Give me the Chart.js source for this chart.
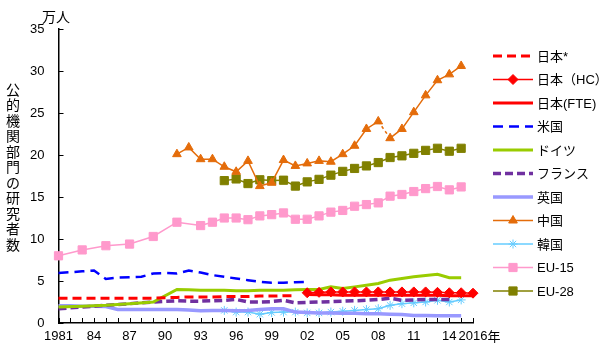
<!DOCTYPE html>
<html><head><meta charset="utf-8">
<script src="https://cdn.jsdelivr.net/npm/chart.js@4/dist/chart.umd.min.js"></script>
<style>html,body{margin:0;padding:0;background:#fff}canvas{display:block}</style>
</head><body>
<canvas id="c" width="600" height="356"></canvas>
<script>
const years = ['1981','1982','1983','1984','1985','1986','1987','1988','1989','1990','1991','1992','1993','1994','1995','1996','1997','1998','1999','2000','2001','2002','2003','2004','2005','2006','2007','2008','2009','2010','2011','2012','2013','2014','2015','2016'];
const tickLabels = ['1981','','','84','','','87','','','90','','','93','','','96','','','99','','','02','','','05','','','08','','','11','','','14','','2016'];
const lastTickSuffix = '年';
const yTitleChars = ['公','的','機','関','部','門','の','研','究','者','数'];
const unitLabel = '万人';
const seriesNames = ['日本*','日本（HC）','日本(FTE)','米国','ドイツ','フランス','英国','中国','韓国','EU-15','EU-28'];
const N = null;
const japanStar = [2.95,2.95,2.95,2.95,2.95,2.95,2.95,2.95,2.95,3.0,3.05,3.1,3.1,3.1,3.15,3.15,3.15,3.2,3.2,3.25,3.25,N,N,N,N,N,N,N,N,N,N,N,N,N,N,N];
const japanHC = [N,N,N,N,N,N,N,N,N,N,N,N,N,N,N,N,N,N,N,N,N,3.6,3.65,3.7,3.7,3.7,3.7,3.7,3.7,3.7,3.7,3.7,3.65,3.6,3.6,3.55];
const japanFTE = [N,N,N,N,N,N,N,N,N,N,N,N,N,N,N,N,N,N,N,N,N,3.4,3.35,3.35,3.3,3.3,3.3,3.3,3.3,3.3,3.3,3.3,3.3,3.25,3.25,3.25];
const usa = [5.95,6.05,6.15,6.25,5.25,5.4,5.45,5.5,5.9,5.95,5.9,6.25,6.0,5.7,5.5,5.3,5.1,4.9,4.8,4.8,4.85,4.9,N,N,N,N,N,N,N,N,N,N,N,N,N,N];
const germany = [1.9,N,2.0,N,2.1,N,2.3,N,2.5,N,4.0,3.95,3.9,3.9,3.9,3.85,3.85,3.9,3.9,3.9,3.95,4.0,4.0,4.3,4.1,4.3,4.5,4.7,5.1,5.3,5.5,5.65,5.8,5.4,5.4,N];
const france = [1.7,N,1.9,N,2.1,N,2.3,N,2.5,N,2.65,2.6,2.6,2.65,2.7,2.8,2.5,2.5,2.55,2.7,2.4,2.45,2.5,2.55,2.6,2.65,2.7,2.8,2.95,2.7,2.75,2.8,2.8,2.8,N,N];
const uk = [2.05,2.05,2.0,2.0,1.95,1.6,1.6,1.6,1.6,1.6,1.6,1.55,1.45,1.5,1.5,1.45,1.5,1.6,1.7,1.7,1.3,1.25,1.2,1.2,1.15,1.15,1.1,1.1,1.05,1.0,0.9,0.9,0.85,0.85,0.85,N];
const china = [N,N,N,N,N,N,N,N,N,N,20.1,20.9,19.5,19.5,18.6,18.0,19.3,16.3,16.7,19.4,18.7,19.0,19.3,19.2,20.1,21.1,23.1,24.0,22.0,23.1,25.1,27.1,28.9,29.6,30.6,N];
const korea = [N,N,N,N,N,N,N,N,N,N,N,N,N,N,1.5,1.3,1.3,1.05,1.25,1.3,1.3,1.2,1.2,1.3,1.4,1.5,1.6,1.7,2.1,2.3,2.4,2.5,2.7,2.5,2.75,N];
const eu15 = [8.0,N,8.7,N,9.2,N,9.4,N,10.3,N,12.0,N,11.6,12.0,12.5,12.5,12.3,12.75,12.9,13.1,12.35,12.35,12.75,13.2,13.4,13.9,14.1,14.3,15.1,15.3,15.65,16.0,16.25,15.85,16.2,N];
const eu28 = [N,N,N,N,N,N,N,N,N,N,N,N,N,N,16.95,17.15,16.6,17.05,16.95,17.0,16.3,16.8,17.1,17.6,18.05,18.4,18.7,19.1,19.7,19.9,20.2,20.55,20.8,20.45,20.8,N];
const chinaBreakYear = '2008';

const FONT = "'Liberation Sans','Noto Sans CJK JP',sans-serif";
Chart.defaults.font.family = FONT;
Chart.defaults.font.size = 13;
Chart.defaults.color = '#000';

function ds(label, data, color, width, dash, pointStyle, radius, extra) {
  return Object.assign({
    label, data, borderColor: color, backgroundColor: color,
    borderWidth: width, borderDash: dash || [],
    pointStyle: pointStyle || 'circle', pointRadius: pointStyle ? radius : 0,
    pointBorderWidth: 1, pointBorderColor: color, pointBackgroundColor: color,
    pointHoverRadius: pointStyle ? radius : 0,
    spanGaps: true, tension: 0, fill: false
  }, extra || {});
}
const breakIdx = years.indexOf(chinaBreakYear);
const datasets = [
  ds(seriesNames[0], japanStar, '#FF0000', 3, [9,5]),
  ds(seriesNames[1], japanHC, '#FF0000', 1.5, null, 'rectRot', 5),
  ds(seriesNames[2], japanFTE, '#FF0000', 3),
  ds(seriesNames[3], usa, '#0000FF', 2.5, [10,6]),
  ds(seriesNames[4], germany, '#99CC00', 3),
  ds(seriesNames[5], france, '#7030A0', 3.5, [8,4]),
  ds(seriesNames[6], uk, '#9999FF', 3.5),
  ds(seriesNames[7], china, '#E46C0A', 1.5, null, 'triangle', 5, {segment:{borderDash: c => c.p0DataIndex === breakIdx ? [3,3] : undefined}}),
  ds(seriesNames[8], korea, '#66CCFF', 1.5, null, 'star', 4.5),
  ds(seriesNames[9], eu15, '#FF99CC', 1.5, null, 'rect', 5.8),
  ds(seriesNames[10], eu28, '#808000', 1.5, null, 'rect', 5.8)
];

function drawMarker(ctx, style, r, x, y) {
  if (Chart.helpers && Chart.helpers.drawPoint) {
    Chart.helpers.drawPoint(ctx, {pointStyle: style, radius: r, rotation: 0, borderWidth: 1}, x, y);
  }
}

const decor = {
  id: 'decor',
  afterDraw(chart) {
    const ctx = chart.ctx, a = chart.chartArea, x = chart.scales.x, y = chart.scales.y;
    ctx.save();
    ctx.strokeStyle = '#000'; ctx.lineWidth = 1; ctx.setLineDash([]);
    for (let i = 0; i < x.ticks.length; i++) {
      const px = Math.round(x.getPixelForTick(i)) + 0.5;
      ctx.beginPath(); ctx.moveTo(px, a.bottom); ctx.lineTo(px, a.bottom - 5); ctx.stroke();
    }
    for (let i = 0; i < y.ticks.length; i++) {
      const py = Math.round(y.getPixelForTick(i)) + 0.5;
      ctx.beginPath(); ctx.moveTo(a.left, py); ctx.lineTo(a.left + 5, py); ctx.stroke();
    }
    ctx.fillStyle = '#000';
    ctx.font = '13px ' + FONT;
    ctx.textBaseline = 'middle';
    ctx.textAlign = 'left';
    const lastX = x.getPixelForTick(x.ticks.length - 1);
    ctx.fillText(lastTickSuffix, lastX + ctx.measureText(tickLabels[tickLabels.length-1]).width / 2, a.bottom + 14);
    ctx.font = '14px ' + FONT;
    ctx.textAlign = 'center';
    yTitleChars.forEach((ch, i) => ctx.fillText(ch, 13, 91 + i * 15.5));
    ctx.textAlign = 'left';
    ctx.fillText(unitLabel, 42, 18);
    // legend
    ctx.font = '13px ' + FONT;
    chart.data.datasets.forEach((d, i) => {
      const ly = 56 + i * 23.5;
      ctx.strokeStyle = d.borderColor; ctx.fillStyle = d.borderColor;
      ctx.lineWidth = d.borderWidth; ctx.setLineDash(d.borderDash || []);
      ctx.beginPath(); ctx.moveTo(493, ly); ctx.lineTo(533, ly); ctx.stroke();
      ctx.setLineDash([]);
      if (d.pointRadius > 0) { ctx.lineWidth = 1; drawMarker(ctx, d.pointStyle, d.pointRadius, 513, ly); }
      ctx.fillStyle = '#000';
      ctx.fillText(d.label, 537, ly + 1);
    });
    ctx.restore();
  }
};

new Chart(document.getElementById('c'), {
  type: 'line',
  data: { labels: years, datasets },
  options: {
    responsive: false, animation: false,
    layout: { padding: { top: 29, right: 127, left: 0, bottom: 0 } },
    plugins: { legend: { display: false }, tooltip: { enabled: false } },
    scales: {
      x: {
        type: 'category', offset: false,
        grid: { display: false, drawTicks: false },
        border: { display: true, color: '#000', width: 1.5 },
        ticks: { autoSkip: false, maxRotation: 0, minRotation: 0, padding: 6,
          callback: (v, i) => tickLabels[i] },
        afterFit: s => { s.height = 33; }
      },
      y: {
        min: 0, max: 35,
        grid: { display: false, drawTicks: false },
        border: { display: true, color: '#000', width: 1.5 },
        ticks: { stepSize: 5, padding: 14 },
        afterFit: s => { s.width = 58.5; }
      }
    }
  },
  plugins: [decor]
});
</script>
</body></html>
